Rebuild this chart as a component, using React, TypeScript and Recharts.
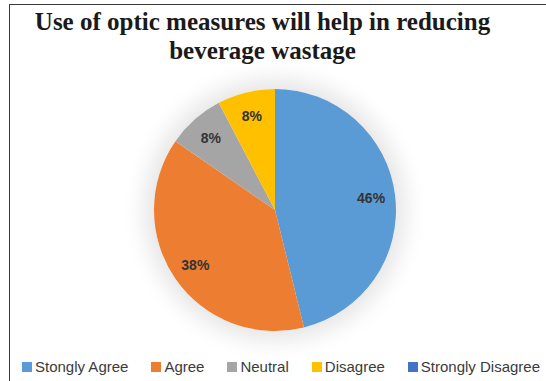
import React from "react";
import { PieChart, Pie, Cell, Legend } from "recharts";

const categories = ["Stongly Agree", "Agree", "Neutral", "Disagree", "Strongly Disagree"];
const responses = [6, 5, 1, 1, 0];
const colors = ["#5B9BD5", "#ED7D31", "#A5A5A5", "#FFC000", "#4472C4"];
const titleLines = ["Use of optic measures will help in reducing", "beverage wastage"];

const data = categories.map((name, i) => ({ name, value: responses[i] }));

const RAD = Math.PI / 180;

const renderLabel = (props: any) => {
  const { cx, cy, midAngle, outerRadius, percent, value } = props;
  if (!value) return null;
  const r = outerRadius * 0.8;
  const x = cx + r * Math.cos(-midAngle * RAD);
  const y = cy + r * Math.sin(-midAngle * RAD);
  return (
    <text
      x={x}
      y={y}
      fill="#333333"
      textAnchor="middle"
      dominantBaseline="central"
      style={{ fontFamily: "'Liberation Sans', Arial, sans-serif", fontWeight: 700, fontSize: 14 }}
    >
      {`${Math.round(percent * 100)}%`}
    </text>
  );
};

const renderLegend = () => (
  <div
    style={{
      display: "flex",
      alignItems: "center",
      fontFamily: "'Liberation Sans', Arial, sans-serif",
      fontSize: 15,
      color: "#3b3b3b",
      paddingLeft: 22,
      gap: 23,
      whiteSpace: "nowrap",
    }}
  >
    {categories.map((c, i) => (
      <div key={c} style={{ display: "flex", alignItems: "center" }}>
        <span style={{ display: "inline-block", width: 10, height: 10, background: colors[i], marginRight: 3 }} />
        <span>{c}</span>
      </div>
    ))}
  </div>
);

export default function App() {
  return (
    <div style={{ position: "absolute", left: 0, top: 0, width: 546, height: 381, overflow: "hidden", background: "#fff" }}>
      <div
        style={{
          position: "absolute",
          left: 9,
          top: 4,
          width: 600,
          height: 420,
          borderLeft: "1.5px solid #3a3a3a",
          borderTop: "1.5px solid #3a3a3a",
        }}
      />
      <div
        style={{
          position: "absolute",
          left: 275 - 121,
          top: 210 - 121,
          width: 242,
          height: 242,
          borderRadius: "50%",
          boxShadow: "0 0 22px 10px rgba(0,0,0,0.10)",
        }}
      />
      <div
        style={{
          position: "absolute",
          left: 0,
          top: 7,
          width: 525,
          textAlign: "center",
          fontFamily: "'Liberation Serif', 'Times New Roman', serif",
          fontWeight: 700,
          fontSize: 25,
          lineHeight: "29px",
          color: "#1a1a1a",
        }}
      >
        {titleLines.map((t) => (
          <div key={t}>{t}</div>
        ))}
      </div>
      <div style={{ position: "absolute", left: 0, top: 0 }}>
        <PieChart width={546} height={381} margin={{ top: 0, right: 0, bottom: 0, left: 0 }}>
          <Pie
            data={data}
            dataKey="value"
            nameKey="name"
            cx={275}
            cy={210}
            outerRadius={121}
            startAngle={90}
            endAngle={-270}
            stroke="none"
            labelLine={false}
            label={renderLabel}
            isAnimationActive={false}
          >
            {data.map((d, i) => (
              <Cell key={d.name} fill={colors[i]} />
            ))}
          </Pie>
          <Legend
            content={renderLegend}
            wrapperStyle={{ position: "absolute", left: 0, top: 358, width: 546, height: 22 }}
          />
        </PieChart>
      </div>
    </div>
  );
}
